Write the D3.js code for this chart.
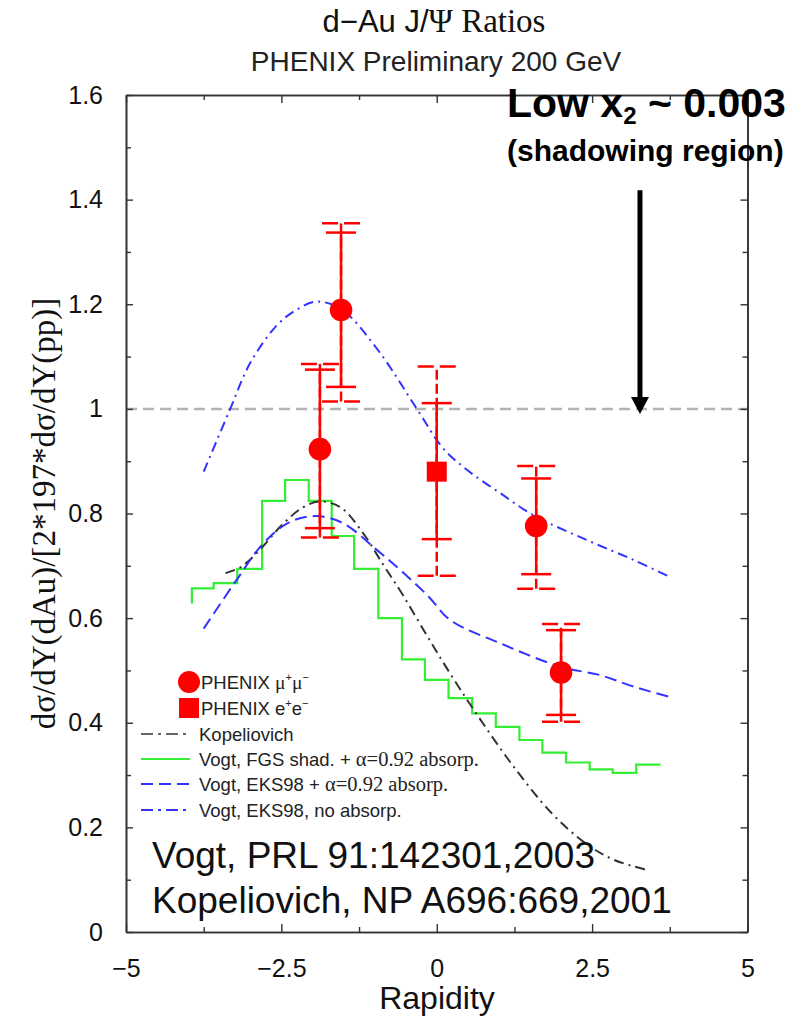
<!DOCTYPE html>
<html>
<head>
<meta charset="utf-8">
<script src="https://cdn.jsdelivr.net/npm/d3@7"></script>
<style>
  html, body { margin: 0; padding: 0; background: #fff; }
  svg { display: block; }
  .sans { font-family: "Liberation Sans", Arial, Helvetica, sans-serif; }
  .serif { font-family: "Liberation Serif", "Times New Roman", serif; }
</style>
</head>
<body>
<svg id="chart" width="801" height="1017"></svg>
<script>
// ---- axis ticks ----
const xMajorTicks = [-5, -2.5, 0, 2.5, 5];
const xMajorLabels = ["\u22125", "\u22122.5", "0", "2.5", "5"];
const xMinorTicks = [-3.75, -1.25, 1.25, 3.75];
const yMajorTicks = [0, 0.2, 0.4, 0.6, 0.8, 1.0, 1.2, 1.4, 1.6];
const yMajorLabels = ["0", "0.2", "0.4", "0.6", "0.8", "1", "1.2", "1.4", "1.6"];
const yMinorTicks = [0.1, 0.3, 0.5, 0.7, 0.9, 1.1, 1.3, 1.5];

// ---- PHENIX mu+mu- points ----
const muRapidity  = [-1.88, -1.54, 1.6, 2.0];
const muRatio     = [0.923, 1.189, 0.776, 0.496];
const muStatLow   = [0.772, 1.042, 0.684, 0.415];
const muStatHigh  = [1.075, 1.337, 0.867, 0.577];
const muSysLow    = [0.754, 1.014, 0.656, 0.402];
const muSysHigh   = [1.086, 1.355, 0.891, 0.589];

// ---- PHENIX e+e- point ----
const eeRapidity  = [0.0];
const eeRatio     = [0.880];
const eeStatLow   = [0.751];
const eeStatHigh  = [1.011];
const eeSysLow    = [0.681];
const eeSysHigh   = [1.081];

// ---- Kopeliovich ----
const kopRapidity = [-3.4, -3.15, -2.85, -2.5, -2.15, -1.88, -1.55, -1.2, -0.85, -0.55, -0.15, 0.2, 0.6, 1.2, 1.85, 2.4, 2.85, 3.4];
const kopRatio    = [0.686, 0.698, 0.73, 0.777, 0.812, 0.823, 0.812, 0.765, 0.70, 0.645, 0.565, 0.497, 0.424, 0.322, 0.227, 0.169, 0.138, 0.118];

// ---- Vogt, FGS shadowing + absorption (histogram edges / levels) ----
const fgsEdges  = [-3.94, -3.94, -3.59, -3.21, -2.81, -2.44, -2.06, -1.69, -1.33, -0.94, -0.56, -0.19, 0.19, 0.57, 0.95, 1.33, 1.70, 2.08, 2.46, 2.83, 3.21, 3.60];
const fgsLevels = [0.628, 0.657, 0.667, 0.694, 0.824, 0.864, 0.824, 0.757, 0.694, 0.600, 0.521, 0.482, 0.447, 0.418, 0.392, 0.367, 0.343, 0.324, 0.311, 0.304, 0.320, 0.320];

// ---- Vogt, EKS98 + absorption ----
const eksAbsRapidity = [-3.75, -3.22, -2.79, -2.36, -1.93, -1.5, -0.96, -0.55, -0.13, 0.22, 1.02, 1.99, 2.63, 3.17, 3.73];
const eksAbsRatio    = [0.58, 0.673, 0.743, 0.784, 0.795, 0.781, 0.73, 0.688, 0.641, 0.596, 0.552, 0.507, 0.491, 0.469, 0.45];

// ---- Vogt, EKS98, no absorption ----
const eksRapidity = [-3.75, -3.33, -3.0, -2.57, -2.25, -1.93, -1.53, -0.95, -0.32, 0.1, 0.49, 1.02, 1.55, 2.42, 3.17, 3.73];
const eksRatio    = [0.88, 0.998, 1.088, 1.16, 1.19, 1.205, 1.19, 1.113, 1.0, 0.925, 0.883, 0.839, 0.797, 0.749, 0.711, 0.68];

// ---- annotation ----
const arrowRapidity = 3.27;
const arrowFrom = 1.418;
const arrowTo = 0.99;

const RED = "#ff0000", GREEN = "#33ee33", BLUE = "#3333ff", KOP = "#333333";

const svg = d3.select("#chart");
const frame = { left: 126, right: 747.5, top: 95, bottom: 932 };
const x = d3.scaleLinear().domain([-5, 5]).range([frame.left, frame.right]);
const y = d3.scaleLinear().domain([0, 1.6]).range([frame.bottom, frame.top]);

// Titles
const title = svg.append("text").attr("x", 434).attr("y", 32).attr("text-anchor", "middle").attr("fill", "#111");
title.append("tspan").attr("class", "sans").attr("font-size", 31).text("d\u2212Au J/");
title.append("tspan").attr("class", "serif").attr("font-size", 33).text("\u03a8 Ratios");

svg.append("text").attr("class", "sans").attr("x", 436).attr("y", 71)
  .attr("text-anchor", "middle").attr("font-size", 28).attr("fill", "#222")
  .text("PHENIX Preliminary  200 GeV");

// Reference line at unity
svg.append("line")
  .attr("x1", x(-5)).attr("x2", x(5)).attr("y1", y(1)).attr("y2", y(1))
  .attr("stroke", "#b3b3b3").attr("stroke-width", 2.5).attr("stroke-dasharray", "11,6");

// Axes on all four sides, ticks pointing inward
const axisG = svg.append("g").attr("class", "sans");
const addAxis = (axis, tx, ty) => axisG.append("g").attr("transform", `translate(${tx},${ty})`).call(axis);

const styleAxis = g => {
  g.select(".domain").attr("stroke", "#333").attr("stroke-width", 1.6);
  g.selectAll(".tick line").attr("stroke", "#333").attr("stroke-width", 1.4);
};

// bottom
addAxis(d3.axisBottom(x).tickValues(xMajorTicks).tickSizeInner(-8).tickSizeOuter(0)
  .tickFormat((d, i) => xMajorLabels[i]).tickPadding(27), 0, frame.bottom)
  .call(styleAxis)
  .call(g => g.selectAll(".tick text").attr("font-size", 25).attr("fill", "#111"));
addAxis(d3.axisBottom(x).tickValues(xMinorTicks).tickSizeInner(-5).tickSizeOuter(0).tickFormat(""), 0, frame.bottom).call(styleAxis);
// top
addAxis(d3.axisTop(x).tickValues(xMajorTicks).tickSizeInner(-8).tickSizeOuter(0).tickFormat(""), 0, frame.top).call(styleAxis);
addAxis(d3.axisTop(x).tickValues(xMinorTicks).tickSizeInner(-5).tickSizeOuter(0).tickFormat(""), 0, frame.top).call(styleAxis);
// left
addAxis(d3.axisLeft(y).tickValues(yMajorTicks).tickSizeInner(-7).tickSizeOuter(0)
  .tickFormat((d, i) => yMajorLabels[i]).tickPadding(23), frame.left, 0)
  .call(styleAxis)
  .call(g => g.selectAll(".tick text").attr("font-size", 25).attr("fill", "#111"));
addAxis(d3.axisLeft(y).tickValues(yMinorTicks).tickSizeInner(-5).tickSizeOuter(0).tickFormat(""), frame.left, 0).call(styleAxis);
// right
addAxis(d3.axisRight(y).tickValues(yMajorTicks).tickSizeInner(-7).tickSizeOuter(0).tickFormat(""), frame.right, 0).call(styleAxis);
addAxis(d3.axisRight(y).tickValues(yMinorTicks).tickSizeInner(-5).tickSizeOuter(0).tickFormat(""), frame.right, 0).call(styleAxis);

// Axis titles
svg.append("text").attr("class", "sans").attr("x", 437).attr("y", 1009)
  .attr("text-anchor", "middle").attr("font-size", 32).attr("fill", "#111").text("Rapidity");
svg.append("text").attr("class", "serif")
  .attr("transform", `translate(55,${(frame.top + frame.bottom) / 2}) rotate(-90)`)
  .attr("text-anchor", "middle").attr("font-size", 33).attr("fill", "#111")
  .text("d\u03c3/dY(dAu)/[2*197*d\u03c3/dY(pp)]");

// Theory curves
const smooth = d3.line().x(d => x(d[0])).y(d => y(d[1])).curve(d3.curveCatmullRom.alpha(0.5));
const step = d3.line().x(d => x(d[0])).y(d => y(d[1])).curve(d3.curveStepAfter);

svg.append("path").attr("d", step(d3.zip(fgsEdges, fgsLevels)))
  .attr("fill", "none").attr("stroke", GREEN).attr("stroke-width", 2.2);
svg.append("path").attr("d", smooth(d3.zip(kopRapidity, kopRatio)))
  .attr("fill", "none").attr("stroke", KOP).attr("stroke-width", 2).attr("stroke-dasharray", "10,5,2,5");
svg.append("path").attr("d", smooth(d3.zip(eksAbsRapidity, eksAbsRatio)))
  .attr("fill", "none").attr("stroke", BLUE).attr("stroke-width", 2).attr("stroke-dasharray", "12,6");
svg.append("path").attr("d", smooth(d3.zip(eksRapidity, eksRatio)))
  .attr("fill", "none").attr("stroke", BLUE).attr("stroke-width", 2).attr("stroke-dasharray", "10,5,2,5");

// Error bars: dashed systematic, solid statistical
function errorBars(xs, lo, hi, slo, shi) {
  const g = svg.append("g");
  xs.forEach((xv, i) => {
    const cx = x(xv);
    g.append("line").attr("x1", cx).attr("x2", cx).attr("y1", y(slo[i])).attr("y2", y(shi[i]))
      .attr("stroke", RED).attr("stroke-width", 2.5).attr("stroke-dasharray", "10,4");
    [slo[i], shi[i]].forEach(v => g.append("line")
      .attr("x1", cx - 19).attr("x2", cx + 19).attr("y1", y(v)).attr("y2", y(v))
      .attr("stroke", RED).attr("stroke-width", 2.5).attr("stroke-dasharray", "16,6,16"));
    g.append("line").attr("x1", cx).attr("x2", cx).attr("y1", y(lo[i])).attr("y2", y(hi[i]))
      .attr("stroke", RED).attr("stroke-width", 2.5);
    [lo[i], hi[i]].forEach(v => g.append("line")
      .attr("x1", cx - 15).attr("x2", cx + 15).attr("y1", y(v)).attr("y2", y(v))
      .attr("stroke", RED).attr("stroke-width", 2.5));
  });
}
errorBars(muRapidity, muStatLow, muStatHigh, muSysLow, muSysHigh);
errorBars(eeRapidity, eeStatLow, eeStatHigh, eeSysLow, eeSysHigh);

svg.append("g").selectAll("circle").data(d3.zip(muRapidity, muRatio)).join("circle")
  .attr("cx", d => x(d[0])).attr("cy", d => y(d[1])).attr("r", 11.3).attr("fill", RED);
svg.append("g").selectAll("rect").data(d3.zip(eeRapidity, eeRatio)).join("rect")
  .attr("x", d => x(d[0]) - 10).attr("y", d => y(d[1]) - 10).attr("width", 20).attr("height", 20).attr("fill", RED);

// Legend
const lg = svg.append("g").attr("fill", "#222");
lg.append("circle").attr("cx", 189).attr("cy", 682).attr("r", 11).attr("fill", RED);
lg.append("rect").attr("x", 179).attr("y", 698).attr("width", 20).attr("height", 20).attr("fill", RED);
const t1 = lg.append("text").attr("x", 201).attr("y", 689).attr("font-size", 18.5);
t1.append("tspan").attr("class", "sans").text("PHENIX ");
t1.append("tspan").attr("class", "serif").attr("font-size", 19.5).text("\u03bc");
t1.append("tspan").attr("class", "sans").attr("font-size", 11).attr("dy", -8).text("+");
t1.append("tspan").attr("class", "serif").attr("font-size", 19.5).attr("dy", 8).text("\u03bc");
t1.append("tspan").attr("class", "sans").attr("font-size", 11).attr("dy", -8).text("\u2212");
const t2 = lg.append("text").attr("x", 201).attr("y", 715).attr("font-size", 18.5);
t2.append("tspan").attr("class", "sans").text("PHENIX e");
t2.append("tspan").attr("class", "sans").attr("font-size", 11).attr("dy", -8).text("+");
t2.append("tspan").attr("class", "sans").attr("dy", 8).text("e");
t2.append("tspan").attr("class", "sans").attr("font-size", 11).attr("dy", -8).text("\u2212");

const legendLines = [
  { y: 734, color: "#666", dash: "12,5,3,5", sans: "Kopeliovich", serif: "" },
  { y: 759, color: GREEN, dash: null, sans: "Vogt, FGS shad. + ", serif: "\u03b1=0.92 absorp." },
  { y: 784, color: BLUE, dash: "12,6", sans: "Vogt, EKS98 + ", serif: "\u03b1=0.92 absorp." },
  { y: 810, color: BLUE, dash: "12,5,3,5", sans: "Vogt, EKS98, no absorp.", serif: "" }
];
legendLines.forEach(d => {
  lg.append("line").attr("x1", 141).attr("x2", 190).attr("y1", d.y).attr("y2", d.y)
    .attr("stroke", d.color).attr("stroke-width", 2).attr("stroke-dasharray", d.dash);
  const t = lg.append("text").attr("x", 199).attr("y", d.y + 6.5).attr("font-size", 18.5);
  t.append("tspan").attr("class", "sans").text(d.sans);
  if (d.serif) t.append("tspan").attr("class", "serif").attr("font-size", 20.5).text(d.serif);
});

// References
svg.append("text").attr("class", "sans").attr("x", 152).attr("y", 868).attr("font-size", 37).attr("fill", "#111")
  .text("Vogt, PRL 91:142301,2003");
svg.append("text").attr("class", "sans").attr("x", 152).attr("y", 913).attr("font-size", 37).attr("fill", "#111")
  .text("Kopeliovich, NP A696:669,2001");

// Shadowing annotation
const ann = svg.append("text").attr("class", "sans").attr("x", 507).attr("y", 117)
  .attr("font-size", 41).attr("font-weight", "bold").attr("fill", "#000");
ann.append("tspan").text("Low x");
ann.append("tspan").attr("font-size", 24).attr("dy", 7).text("2");
ann.append("tspan").attr("dy", -7).text(" ~ 0.003");
svg.append("text").attr("class", "sans").attr("x", 507).attr("y", 161)
  .attr("font-size", 30).attr("font-weight", "bold").attr("fill", "#000")
  .text("(shadowing region)");

svg.append("line").attr("x1", x(arrowRapidity)).attr("x2", x(arrowRapidity))
  .attr("y1", y(arrowFrom)).attr("y2", y(arrowTo) - 14)
  .attr("stroke", "#000").attr("stroke-width", 5);
svg.append("path")
  .attr("d", `M${x(arrowRapidity) - 9},${y(arrowTo) - 17} L${x(arrowRapidity) + 9},${y(arrowTo) - 17} L${x(arrowRapidity)},${y(arrowTo)} Z`)
  .attr("fill", "#000");
</script>
</body>
</html>
